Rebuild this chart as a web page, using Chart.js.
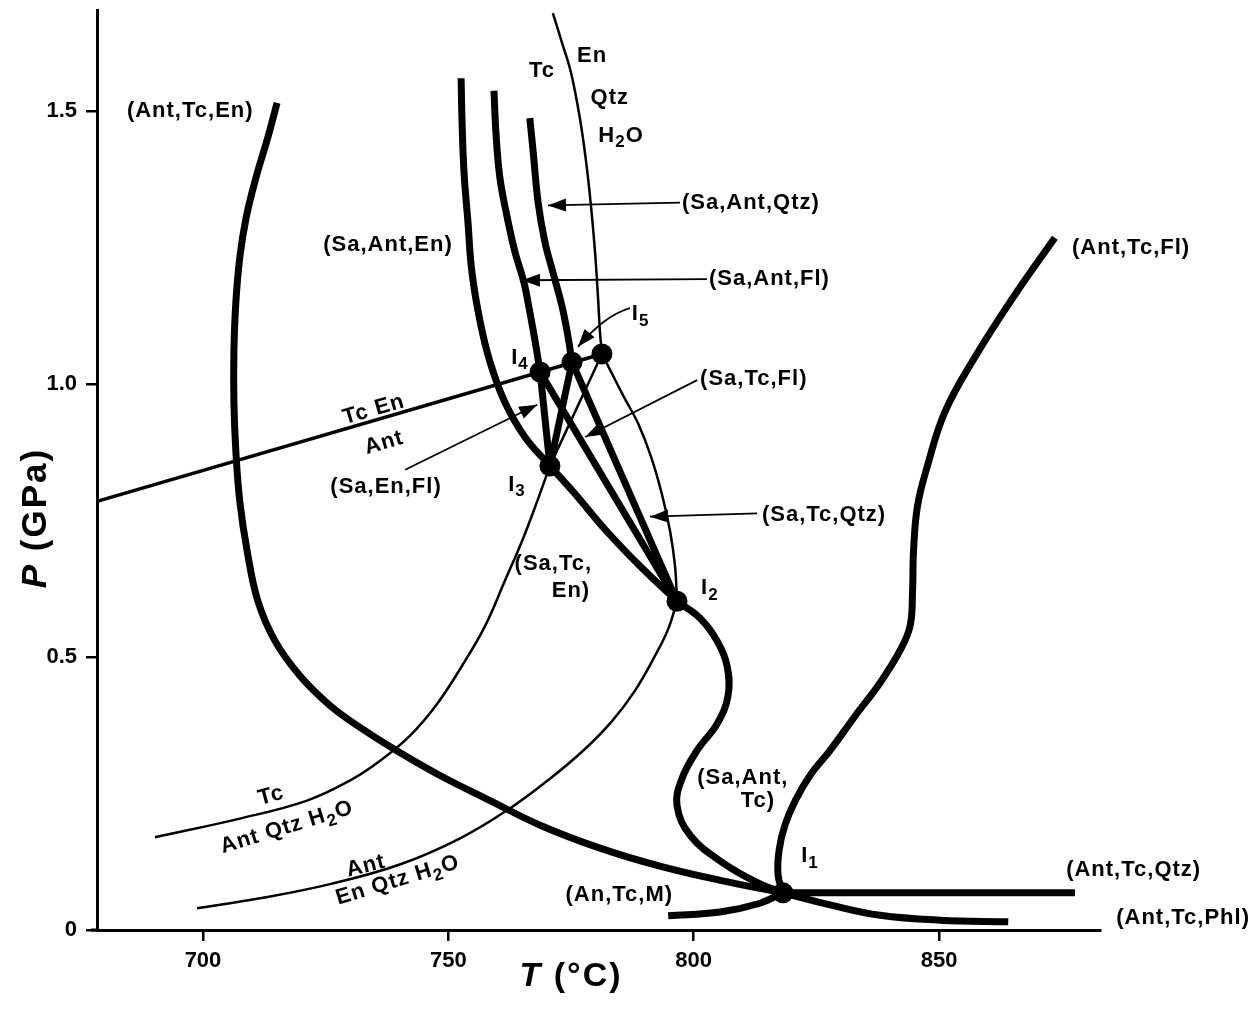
<!DOCTYPE html>
<html><head><meta charset="utf-8">
<script src="https://cdn.jsdelivr.net/npm/chart.js@4/dist/chart.umd.min.js"></script>
<style>html,body{margin:0;padding:0;background:#fff;}canvas{display:block;}</style>
</head><body>
<canvas id="c" width="1259" height="1011"></canvas>
<script>
// ---- ticks ----
const xTicks = [700, 750, 800, 850];
const yTicks = [0, 0.5, 1.0, 1.5];
const yTickLabels = ['0', '0.5', '1.0', '1.5'];

// ---- reaction curves: T (°C), P (GPa) ----
const antTcEnT = [715.1,713.2,710.8,708.8,707.5,706.7,706.3,706.3,706.7,707.5,709.0,711.2,714.7,719.8,725.9,733.0,740.1,748.3,758.5,768.7,780.9,793.1,805.4,818.2];
const antTcEnP = [1.515,1.451,1.378,1.305,1.232,1.150,1.059,0.967,0.876,0.785,0.694,0.602,0.529,0.465,0.411,0.365,0.325,0.283,0.237,0.192,0.150,0.117,0.091,0.068];
const antTcPhlT = [818.2,827.8,838.0,850.2,864.1];
const antTcPhlP = [0.068,0.046,0.027,0.018,0.015];
const antTcQtzT = [818.2,877.7];
const antTcQtzP = [0.068,0.068];
const anTcMT = [794.8,805.4,813.5,818.2];
const anTcMP = [0.026,0.033,0.049,0.068];
const antTcFlT = [818.2,817.2,817.4,818.6,820.7,823.7,827.8,832.9,838.0,842.0,844.1,844.6,844.8,845.6,847.6,851.2,857.3,865.5,873.6];
const antTcFlP = [0.068,0.100,0.146,0.192,0.237,0.283,0.329,0.392,0.453,0.511,0.557,0.621,0.694,0.776,0.849,0.949,1.049,1.164,1.268];
const saAntTcT = [796.6,801.3,804.8,806.8,807.0,804.8,800.7,797.6,796.6,799.3,805.8,812.7,818.2];
const saAntTcP = [0.602,0.571,0.529,0.484,0.429,0.378,0.329,0.277,0.228,0.173,0.124,0.088,0.068];
const saAntEnT = [752.6,752.8,753.2,754.0,754.8,756.5,758.5,761.5,765.6,770.7];
const saAntEnP = [1.560,1.478,1.387,1.296,1.205,1.113,1.040,0.967,0.903,0.850];
const saTcEnT = [770.7,775.8,781.9,789.1,796.6];
const saTcEnP = [0.850,0.799,0.734,0.666,0.602];
const saAntFlT = [759.3,759.7,760.5,762.0,763.6,765.4,766.6,767.7,768.7];
const saAntFlP = [1.537,1.460,1.378,1.305,1.241,1.186,1.132,1.077,1.022];
const saTcFlT = [768.7,796.6];
const saTcFlP = [1.022,0.602];
const saAntQtzT = [766.6,767.3,768.3,769.7,771.3,773.2,774.4,775.2];
const saAntQtzP = [1.487,1.424,1.332,1.259,1.205,1.141,1.086,1.040];
const saTcQtzT = [775.2,796.6];
const saTcQtzP = [1.040,0.602];
const saEnFlT = [770.7,768.7];
const saEnFlP = [0.850,1.022];
const i3i5T = [770.7,775.2];
const i3i5P = [0.850,1.040];
const tcEnQtzT = [771.3,773.2,775.0,776.8,778.1,779.1,779.9,780.5,780.9,781.3];
const tcEnQtzP = [1.679,1.624,1.570,1.487,1.405,1.323,1.241,1.159,1.095,1.055];
const thinArcT = [781.3,783.4,785.8,788.7,791.3,793.5,795.2,796.2,796.6];
const thinArcP = [1.055,1.018,0.976,0.927,0.867,0.799,0.730,0.666,0.602];
const i3p6T = [770.7,781.3];
const i3p6P = [0.850,1.055];
const tcEnAntT = [678.4,781.3];
const tcEnAntP = [0.785,1.055];
const tcAntQtzT = [770.7,768.1,765.0,761.5,757.5,752.8,747.7,742.2,736.1,730.0,721.2,707.5,690.2];
const tcAntQtzP = [0.850,0.785,0.712,0.639,0.557,0.484,0.414,0.356,0.310,0.274,0.237,0.204,0.170];
const antEnQtzT = [698.8,711.6,725.9,740.1,752.4,762.6,770.7,777.9,783.4,788.0,792.1,794.8,796.6];
const antEnQtzP = [0.040,0.058,0.084,0.120,0.168,0.223,0.277,0.332,0.383,0.438,0.502,0.551,0.602];

// ---- invariant points I1..I5 and unlabeled point ----
const invT = [818.2,796.6,770.7,768.7,775.2,781.3];
const invP = [0.068,0.602,0.850,1.022,1.040,1.055];

// ---- labels ----
const labelText = ['(Ant,Tc,En)','Tc','En','Qtz','H_2O','(Sa,Ant,Qtz)','(Sa,Ant,En)','(Sa,Ant,Fl)','(Ant,Tc,Fl)','I_5','I_4','(Sa,Tc,Fl)','Tc En','Ant','(Sa,En,Fl)','I_3','(Sa,Tc,Qtz)','(Sa,Tc,','En)','I_2','(Sa,Ant,','Tc)','I_1','(Ant,Tc,Qtz)','(An,Tc,M)','(Ant,Tc,Phl)','Tc','Ant Qtz H_2O','Ant','En Qtz H_2O'];
const labelT = [697.4,769.1,779.3,782.9,785.2,797.6,750.9,803.1,877.1,787.4,764.6,801.3,734.8,736.9,737.3,764.0,813.9,779.3,778.9,803.3,810.0,813.1,823.7,875.9,795.8,886.1,713.9,717.1,733.2,739.7];
const labelP = [1.500,1.573,1.601,1.524,1.455,1.332,1.254,1.192,1.250,1.128,1.048,1.009,0.953,0.892,0.812,0.816,0.761,0.670,0.621,0.626,0.279,0.237,0.135,0.110,0.064,0.022,0.246,0.188,0.117,0.091];
const labelAlign = ['center','center','center','center','center','left','right','left','left','left','center','left','center','center','center','center','left','right','right','center','center','center','center','left','right','left','center','center','center','center'];
const labelAngle = [0,0,0,0,0,0,0,0,0,0,0,0,-16,-16,0,0,0,0,0,0,0,0,0,0,0,0,-15,-17,-14,-17];

// ---- arrows (tail -> tip) ----
const arrowTailT = [797.2,802.7,800.7,741.2,812.9];
const arrowTailP = [1.332,1.192,1.007,0.843,0.763];
const arrowTipT  = [770.3,765.0,777.9,768.1,791.1];
const arrowTipP  = [1.327,1.190,0.903,0.962,0.757];
// curved arrow to I5: tail, control, tip
const curvedArrowT = [787.0,781.9,776.4];
const curvedArrowP = [1.139,1.126,1.068];

const FONT = '"Liberation Sans", Arial, Helvetica, sans-serif';
const pts = (T, P) => T.map((t, i) => ({x: t, y: P[i]}));
const THICK = 7, MED = 3.5, THIN = 2.5;
function line(T, P, w, tension) {
  return {data: pts(T, P), showLine: true, borderColor: '#000', borderWidth: w,
          pointRadius: 0, tension: tension === undefined ? 0.4 : tension, fill: false, clip: false};
}

const datasets = [
  line(tcEnAntT, tcEnAntP, MED, 0),
  line(tcEnQtzT, tcEnQtzP, THIN),
  line(thinArcT, thinArcP, THIN),
  line(i3p6T, i3p6P, THIN, 0),
  line(tcAntQtzT, tcAntQtzP, THIN),
  line(antEnQtzT, antEnQtzP, THIN),
  line(antTcEnT, antTcEnP, THICK),
  line(antTcPhlT, antTcPhlP, THICK),
  line(antTcQtzT, antTcQtzP, THICK, 0),
  line(anTcMT, anTcMP, THICK),
  line(antTcFlT, antTcFlP, THICK),
  line(saAntTcT, saAntTcP, THICK),
  line(saAntEnT, saAntEnP, THICK),
  line(saTcEnT, saTcEnP, THICK),
  line(saAntFlT, saAntFlP, THICK),
  line(saTcFlT, saTcFlP, THICK, 0),
  line(saAntQtzT, saAntQtzP, THICK),
  line(saTcQtzT, saTcQtzP, THICK, 0),
  line(saEnFlT, saEnFlP, THICK, 0),
  line(i3i5T, i3i5P, THICK, 0),
  {data: pts(invT, invP), showLine: false, pointRadius: 10.5, pointBackgroundColor: '#000',
   pointBorderColor: '#000', pointBorderWidth: 0, clip: false}
];

function drawRich(ctx, text, x, y, size, align, angle) {
  const segs = [];
  let i = 0;
  while (i < text.length) {
    if (text[i] === '_') { segs.push({t: text[i + 1], sub: true}); i += 2; }
    else { let j = i; while (j < text.length && text[j] !== '_') j++; segs.push({t: text.slice(i, j), sub: false}); i = j; }
  }
  const subSize = Math.round(size * 0.75);
  let w = 0;
  for (const s of segs) {
    ctx.font = 'bold ' + (s.sub ? subSize : size) + 'px ' + FONT;
    s.w = ctx.measureText(s.t).width; w += s.w;
  }
  ctx.save();
  ctx.translate(x, y);
  ctx.rotate(angle * Math.PI / 180);
  let cx = align === 'left' ? 0 : (align === 'right' ? -w : -w / 2);
  ctx.textBaseline = 'middle'; ctx.textAlign = 'left'; ctx.fillStyle = '#000';
  for (const s of segs) {
    ctx.font = 'bold ' + (s.sub ? subSize : size) + 'px ' + FONT;
    ctx.fillText(s.t, cx, s.sub ? size * 0.32 : 0);
    cx += s.w;
  }
  ctx.restore();
}

function arrowHead(ctx, x0, y0, x1, y1) {
  const a = Math.atan2(y1 - y0, x1 - x0), L = 18, H = 6.5;
  ctx.beginPath();
  ctx.moveTo(x1, y1);
  ctx.lineTo(x1 - L * Math.cos(a) + H * Math.sin(a), y1 - L * Math.sin(a) - H * Math.cos(a));
  ctx.lineTo(x1 - L * Math.cos(a) - H * Math.sin(a), y1 - L * Math.sin(a) + H * Math.cos(a));
  ctx.closePath(); ctx.fill();
}

const annotate = {
  id: 'annotate',
  afterDatasetsDraw(chart) {
    const ctx = chart.ctx, xs = chart.scales.x, ys = chart.scales.y;
    ctx.save();
    ctx.strokeStyle = '#000'; ctx.fillStyle = '#000'; ctx.lineWidth = 1.8;
    for (let k = 0; k < arrowTailT.length; k++) {
      const x0 = xs.getPixelForValue(arrowTailT[k]), y0 = ys.getPixelForValue(arrowTailP[k]);
      const x1 = xs.getPixelForValue(arrowTipT[k]), y1 = ys.getPixelForValue(arrowTipP[k]);
      ctx.beginPath(); ctx.moveTo(x0, y0); ctx.lineTo(x1, y1); ctx.stroke();
      arrowHead(ctx, x0, y0, x1, y1);
    }
    const cx = curvedArrowT.map(v => xs.getPixelForValue(v));
    const cy = curvedArrowP.map(v => ys.getPixelForValue(v));
    ctx.beginPath(); ctx.moveTo(cx[0], cy[0]); ctx.quadraticCurveTo(cx[1], cy[1], cx[2], cy[2]); ctx.stroke();
    arrowHead(ctx, cx[1], cy[1], cx[2], cy[2]);
    try { ctx.letterSpacing = '1px'; } catch (e) {}
    for (let k = 0; k < labelText.length; k++) {
      drawRich(ctx, labelText[k], xs.getPixelForValue(labelT[k]), ys.getPixelForValue(labelP[k]), 22, labelAlign[k], labelAngle[k]);
    }
    // axis titles
    try { ctx.letterSpacing = '2px'; } catch (e) {}
    ctx.textBaseline = 'middle'; ctx.textAlign = 'left';
    const tx = 571, ty = 977;
    ctx.font = 'italic bold 34px ' + FONT;
    const wT = ctx.measureText('T').width;
    ctx.font = 'bold 34px ' + FONT;
    const wR = ctx.measureText(' (°C)').width;
    let sx = tx - (wT + wR) / 2;
    ctx.font = 'italic bold 34px ' + FONT; ctx.fillText('T', sx, ty);
    ctx.font = 'bold 34px ' + FONT; ctx.fillText(' (°C)', sx + wT, ty);
    ctx.save();
    ctx.translate(36, 518); ctx.rotate(-Math.PI / 2);
    ctx.font = 'italic bold 35px ' + FONT;
    const wP = ctx.measureText('P').width;
    ctx.font = 'bold 35px ' + FONT;
    const wG = ctx.measureText(' (GPa)').width;
    sx = -(wP + wG) / 2;
    ctx.font = 'italic bold 35px ' + FONT; ctx.fillText('P', sx, 0);
    ctx.font = 'bold 35px ' + FONT; ctx.fillText(' (GPa)', sx + wP, 0);
    ctx.restore();
    // short extension of the T axis to the left of the P axis
    ctx.lineWidth = 3;
    const yb = ys.getPixelForValue(0);
    ctx.beginPath(); ctx.moveTo(chart.chartArea.left - 6, yb); ctx.lineTo(chart.chartArea.left, yb); ctx.stroke();
    ctx.restore();
  }
};

new Chart(document.getElementById('c'), {
  type: 'scatter',
  data: {datasets},
  options: {
    responsive: false, animation: false, devicePixelRatio: 1,
    layout: {padding: {top: 7, right: 159, left: 0, bottom: 0}},
    plugins: {legend: {display: false}, tooltip: {enabled: false}, title: {display: false}},
    scales: {
      x: {
        type: 'linear', min: 678.4, max: 882.8,
        afterBuildTicks: s => { s.ticks = xTicks.map(v => ({value: v})); },
        afterFit: s => { s.height = 81; s.paddingLeft = 0; s.paddingRight = 0; s.paddingTop = 0; s.paddingBottom = 0; },
        ticks: {color: '#000', font: {family: FONT, size: 22, weight: 'bold'}, padding: 7, maxRotation: 0, autoSkip: false,
                callback: v => String(v)},
        grid: {drawOnChartArea: false, drawTicks: true, tickLength: 11, color: '#000', lineWidth: 2.5},
        border: {display: true, color: '#000', width: 3}
      },
      y: {
        type: 'linear', min: 0, max: 1.684,
        afterBuildTicks: s => { s.ticks = yTicks.map(v => ({value: v})); },
        afterFit: s => { s.width = 97; s.paddingTop = 0; s.paddingBottom = 0; s.paddingLeft = 0; s.paddingRight = 0; },
        ticks: {color: '#000', font: {family: FONT, size: 22, weight: 'bold'}, padding: 9, autoSkip: false,
                callback: v => yTickLabels[yTicks.indexOf(v)] ?? ''},
        grid: {drawOnChartArea: false, drawTicks: true, tickLength: 11, color: '#000', lineWidth: 2.5},
        border: {display: true, color: '#000', width: 3}
      }
    }
  },
  plugins: [annotate]
});
</script>
</body></html>
